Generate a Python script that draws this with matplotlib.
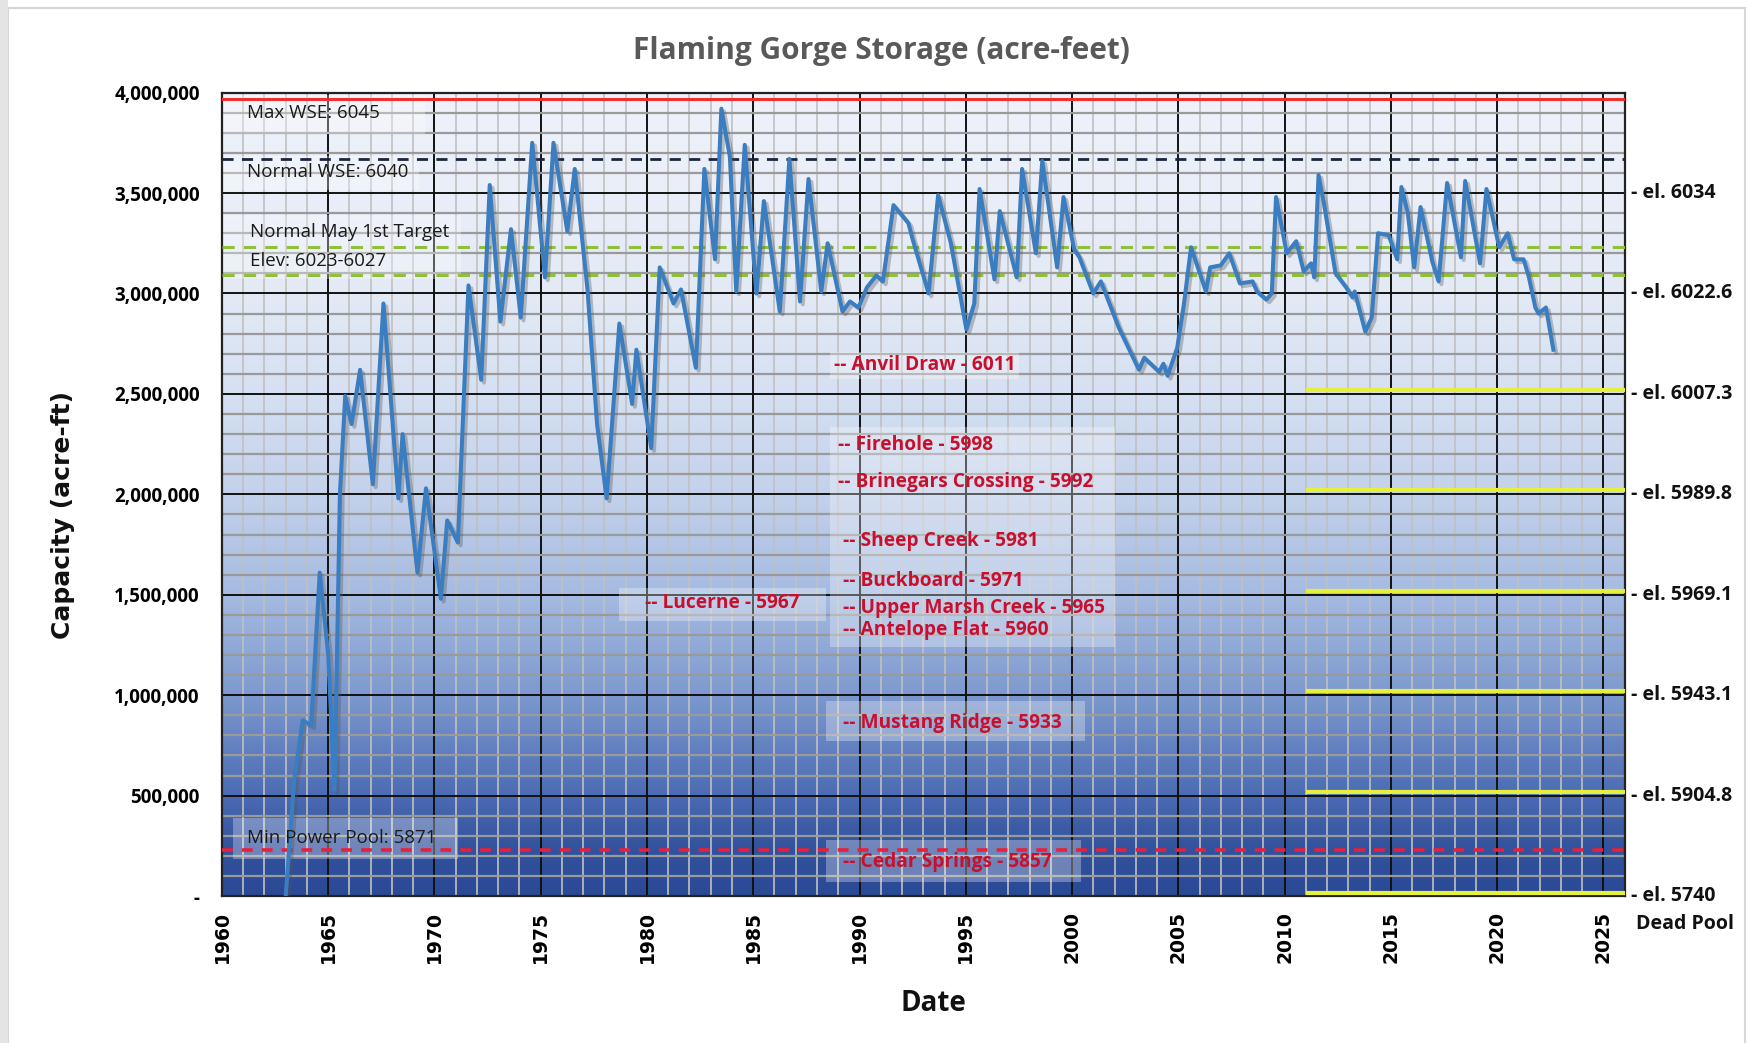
import matplotlib
matplotlib.use("Agg")
import matplotlib.pyplot as plt
import numpy as np
from matplotlib import font_manager
from matplotlib.colors import LinearSegmentedColormap
from matplotlib.patches import Rectangle
import matplotlib.patheffects as pe

# ---------------- data ----------------
years = [1963.0, 1963.4, 1963.8, 1964.2, 1964.6, 1965.0, 1965.3, 1965.55, 1965.8, 1966.1,
         1966.5, 1967.1, 1967.6, 1968.3, 1968.5, 1969.2, 1969.6, 1970.3, 1970.6, 1971.1,
         1971.6, 1972.2, 1972.6, 1973.1, 1973.6, 1974.06, 1974.6, 1975.2, 1975.6, 1976.25,
         1976.6, 1977.2, 1977.65, 1978.1, 1978.7, 1979.3, 1979.5, 1980.2, 1980.6, 1981.25,
         1981.6, 1982.3, 1982.7, 1983.2, 1983.5, 1983.9, 1984.2, 1984.6, 1985.15, 1985.5,
         1986.25, 1986.7, 1987.2, 1987.6, 1988.2, 1988.5, 1989.2, 1989.55, 1989.95, 1990.35,
         1990.8, 1991.1, 1991.6, 1992.3, 1992.5, 1993.25, 1993.7, 1994.3, 1995.03, 1995.4,
         1995.65, 1996.35, 1996.6, 1997.4, 1997.65, 1998.3, 1998.6, 1999.3, 1999.6, 2000.1,
         2000.35, 2001.0, 2001.36, 2002.2, 2003.15, 2003.4, 2004.1, 2004.3, 2004.5, 2004.95,
         2005.27, 2005.6, 2006.3, 2006.5, 2007.0, 2007.4, 2007.9, 2008.5, 2008.7, 2009.15,
         2009.4, 2009.6, 2010.1, 2010.55, 2010.9, 2011.25, 2011.4, 2011.6, 2011.85, 2012.4,
         2012.9, 2013.2, 2013.3, 2013.8, 2014.1, 2014.4, 2014.9, 2015.3, 2015.5, 2015.8,
         2016.1, 2016.4, 2016.95, 2017.25, 2017.65, 2018.3, 2018.5, 2019.2, 2019.5, 2020.1,
         2020.5, 2020.8, 2021.25, 2021.5, 2021.8, 2021.95, 2022.3, 2022.65]
storage = [0, 580000, 875000, 850000, 1610000, 1200000, 530000, 2000000, 2490000, 2350000,
           2620000, 2050000, 2950000, 1980000, 2300000, 1610000, 2030000, 1480000, 1870000, 1760000,
           3040000, 2570000, 3540000, 2860000, 3320000, 2880000, 3750000, 3080000, 3750000, 3310000,
           3620000, 3020000, 2350000, 1980000, 2850000, 2450000, 2720000, 2230000, 3130000, 2950000,
           3020000, 2630000, 3620000, 3170000, 3920000, 3680000, 3010000, 3740000, 3000000, 3460000,
           2910000, 3670000, 2960000, 3570000, 3010000, 3250000, 2910000, 2960000, 2930000, 3030000,
           3090000, 3060000, 3440000, 3350000, 3270000, 3000000, 3490000, 3250000, 2820000, 2950000,
           3520000, 3070000, 3410000, 3080000, 3620000, 3200000, 3660000, 3130000, 3480000, 3220000,
           3180000, 3000000, 3060000, 2830000, 2620000, 2680000, 2610000, 2650000, 2590000, 2730000,
           2950000, 3230000, 3010000, 3130000, 3140000, 3200000, 3050000, 3060000, 3010000, 2970000,
           3000000, 3480000, 3200000, 3260000, 3110000, 3150000, 3080000, 3590000, 3450000, 3100000,
           3030000, 2980000, 3010000, 2810000, 2880000, 3300000, 3290000, 3170000, 3530000, 3400000,
           3130000, 3430000, 3160000, 3060000, 3550000, 3180000, 3560000, 3150000, 3520000, 3230000,
           3300000, 3170000, 3170000, 3080000, 2930000, 2900000, 2930000, 2720000]

# reference levels (acre-ft)
max_wse = 3970000
normal_wse = 3670000
may_target = [3233000, 3094000]
min_power = 228000
yellow_levels = [2520000, 2020000, 1520000, 1020000, 520000, 15000]
yellow_start = 2011.0

right_vals = [3500000, 3000000, 2500000, 2000000, 1500000, 1000000, 500000, 0]
right_labels = ["- el. 6034", "- el. 6022.6", "- el. 6007.3", "- el. 5989.8",
                "- el. 5969.1", "- el. 5943.1", "- el. 5904.8", "- el. 5740"]

site_names = ["-- Anvil Draw - 6011", "-- Firehole - 5998", "-- Brinegars Crossing - 5992",
              "-- Sheep Creek - 5981", "-- Buckboard - 5971", "-- Upper Marsh Creek - 5965",
              "-- Antelope Flat - 5960", "-- Mustang Ridge - 5933", "-- Cedar Springs - 5857",
              "-- Lucerne - 5967"]
site_x = [1988.8, 1989.0, 1989.0, 1989.2, 1989.2, 1989.2, 1989.2, 1989.2, 1989.2, 1979.9]
site_y = [2646000, 2246000, 2063000, 1768000, 1568000, 1435000, 1324000, 862000, 168000, 1457000]

# ---------------- fonts ----------------
def pick(cands):
    for c in cands:
        try:
            font_manager.findfont(font_manager.FontProperties(family=c), fallback_to_default=False)
            return c
        except Exception:
            pass
    return "DejaVu Sans"

NARROW = pick(["Liberation Sans Narrow", "Open Sans", "Liberation Sans"])
WIDE = "DejaVu Sans"

# ---------------- figure ----------------
fig = plt.figure(figsize=(17.49, 10.43), dpi=100)
fig.patch.set_facecolor("white")
ax = fig.add_axes([0.1269, 0.1409, 0.8022, 0.7703])

XMIN, XMAX = 1960, 2026.02
YMIN, YMAX = 0, 4000000

# gradient background
cmap = LinearSegmentedColormap.from_list("bg", [
    (0.0, "#2b4a96"), (0.06, "#33539e"), (0.125, "#4c6db4"), (0.25, "#7d99ce"),
    (0.375, "#a6bbe1"), (0.5, "#c3d1eb"), (0.625, "#d5e0f2"), (0.75, "#e3eaf6"),
    (1.0, "#eff2fa")])
grad = np.linspace(0, 1, 400).reshape(-1, 1)
ax.imshow(grad, extent=[XMIN, XMAX, YMIN, YMAX], origin="lower", aspect="auto",
          cmap=cmap, zorder=0, interpolation="bicubic")

ax.set_xlim(XMIN, XMAX)
ax.set_ylim(YMIN, YMAX)

ax.set_xticks(np.arange(1960, 2026, 5))
ax.set_xticks(np.arange(1960, 2027, 1), minor=True)
ax.set_yticks(np.arange(0, 4000001, 500000))
ax.set_yticks(np.arange(0, 4000001, 100000), minor=True)

ax.grid(which="minor", axis="x", color="#c0c0c0", lw=1.2, zorder=1)
ax.grid(which="minor", axis="y", color="#9a9a9a", lw=1.6, zorder=1)
ax.grid(which="major", axis="both", color="#111111", lw=1.4, zorder=1.2)
ax.set_axisbelow(True)

for s in ax.spines.values():
    s.set_color("#222222")
    s.set_linewidth(1.6)

ax.tick_params(which="both", length=0)
ax.tick_params(axis="y", pad=16)
ax.tick_params(axis="x", pad=11)
ax.set_yticklabels(["-" if v == 0 else f"{v:,}" for v in np.arange(0, 4000001, 500000)],
                   fontfamily=NARROW, fontweight="bold", fontsize=13.5)
ax.set_xticklabels([str(y) for y in np.arange(1960, 2026, 5)], rotation=90,
                   fontfamily=WIDE, fontweight="bold", fontsize=13.5)

# translucent label boxes
box_kw = dict(facecolor="white", edgecolor="none", alpha=0.3, zorder=2)
boxes = [
    (1960.05, 3794000, 9.5, 196000),
    (1960.05, 3517000, 9.2, 166000),
    (1960.05, 3072000, 11.2, 317000),
    (1960.5, 183000, 10.6, 206000),
    (1978.7, 1367000, 9.7, 166000),
    (1988.6, 1239000, 13.4, 1094000),
    (1988.6, 2572000, 8.9, 139000),
    (1988.4, 772000, 12.2, 200000),
    (1988.4, 72000, 12.0, 206000),
]
for (bx, by, bw, bh) in boxes:
    ax.add_patch(Rectangle((bx, by), bw, bh, **box_kw))

# reference lines
ax.axhline(max_wse, color="#f03030", lw=2.2, zorder=3)
ax.axhline(normal_wse, color="#1b2540", lw=2.0, ls=(0, (4, 3)), zorder=3)
for v in may_target:
    ax.axhline(v, color="#8fc03c", lw=2.2, ls=(0, (4, 3)), zorder=3)
ax.axhline(min_power, color="#e8203a", lw=2.6, ls=(0, (3, 2.5)), zorder=3)
for v in yellow_levels:
    ax.plot([yellow_start, XMAX], [v, v], color="#e6ef3a", lw=3.0, zorder=3,
            solid_capstyle="butt", clip_on=False)

# storage line
ax.plot(years, storage, color="#3a7dc0", lw=2.9, zorder=5,
        solid_joinstyle="round",
        path_effects=[pe.SimpleLineShadow(offset=(2, -2), shadow_color="#555555", alpha=0.35),
                      pe.Normal()])

# black annotation text
txt_kw = dict(fontfamily=NARROW, fontsize=13.5, color="#1a1a1a", zorder=6, va="center")
ax.text(1961.2, 3900000, "Max WSE: 6045", **txt_kw)
ax.text(1961.2, 3606000, "Normal WSE: 6040", **txt_kw)
ax.text(1961.3, 3307000, "Normal May 1st Target", **txt_kw)
ax.text(1961.3, 3162000, "Elev: 6023-6027", **txt_kw)
ax.text(1961.2, 290000, "Min Power Pool: 5871", **txt_kw)

# red site labels
for name, sx, sy in zip(site_names, site_x, site_y):
    ax.text(sx, sy, name, fontfamily=NARROW, fontweight="bold", fontsize=13.8,
            color="#c8102e", va="center", ha="left", zorder=6)

# right side elevation labels
ytr = ax.get_yaxis_transform()
for v, lab in zip(right_vals, right_labels):
    ax.text(1.004, v, lab, transform=ytr, fontfamily=NARROW, fontweight="bold",
            fontsize=14, color="#111111", va="center", ha="left", clip_on=False)
ax.text(1.008, -140000, "Dead Pool", transform=ytr, fontfamily=NARROW, fontweight="bold",
        fontsize=14, color="#111111", va="center", ha="left", clip_on=False)

# titles
fig.text(0.504, 0.951, "Flaming Gorge Storage (acre-feet)", ha="center", va="center",
         fontfamily=NARROW, fontweight="bold", fontsize=21.5, color="#595959")
fig.text(0.036, 0.506, "Capacity (acre-ft)", rotation=90, ha="center", va="center",
         fontfamily=WIDE, fontweight="bold", fontsize=18, color="#111111")
fig.text(0.5335, 0.0374, "Date", ha="center", va="center",
         fontfamily=NARROW, fontweight="bold", fontsize=20, color="#111111")

# outer frame of the screenshot
fig.patches.append(Rectangle((0.0046, -0.01), 0.993, 1.002, transform=fig.transFigure,
                             facecolor="none", edgecolor="#d6d6d6", lw=1.5, zorder=0))
fig.patches.append(Rectangle((0.0, 0.0), 0.0046, 1.0, transform=fig.transFigure,
                             facecolor="#e4e4e4", edgecolor="none", zorder=0))

fig.savefig("out.png", dpi=100)
